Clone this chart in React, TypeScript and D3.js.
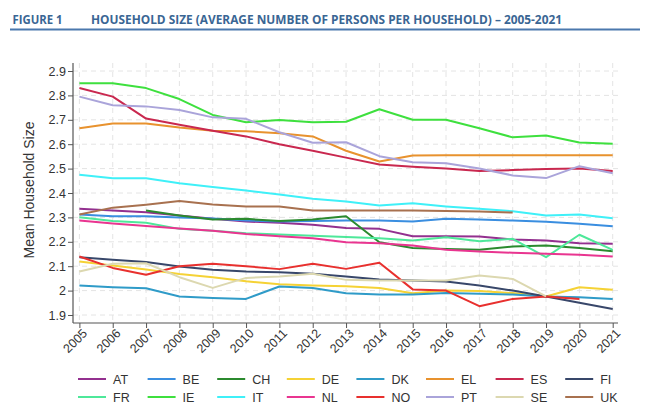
import React, { useEffect, useRef } from 'react';
import * as d3 from 'd3';

const years = d3.range(2005, 2022);

const countries = ['AT', 'BE', 'CH', 'DE', 'DK', 'EL', 'ES', 'FI', 'FR', 'IE', 'IT', 'NL', 'NO', 'PT', 'SE', 'UK'];

const colors = [
  '#93308f', '#3a8ee0', '#2b8a2e', '#f5d235', '#2f9bc8', '#e8922e', '#c9284f', '#38476a',
  '#4ee89a', '#3ee03e', '#3ff0f8', '#e93590', '#e8302e', '#aaa4da', '#dcd8b0', '#a8714f',
];

const AT = [2.335, 2.328, 2.321, 2.308, 2.294, 2.283, 2.278, 2.27, 2.257, 2.253, 2.223, 2.223, 2.222, 2.209, 2.205, 2.194, 2.192];
const BE = [2.312, 2.305, 2.305, 2.3, 2.295, 2.287, 2.283, 2.285, 2.287, 2.287, 2.283, 2.294, 2.291, 2.287, 2.282, 2.274, 2.264];
const CH = [null, null, 2.328, 2.308, 2.291, 2.294, 2.285, 2.291, 2.305, 2.198, 2.175, 2.171, 2.167, 2.181, 2.185, 2.175, 2.161];
const DE = [2.119, 2.103, 2.086, 2.068, 2.055, 2.038, 2.026, 2.021, 2.018, 2.011, 1.989, 2.0, 1.998, 1.99, 1.976, 2.014, 2.003];
const DK = [2.021, 2.014, 2.01, 1.976, 1.97, 1.966, 2.017, 2.011, 1.989, 1.984, 1.984, 1.99, 1.987, 1.984, 1.976, 1.973, 1.966];
const EL = [2.665, 2.685, 2.685, 2.668, 2.655, 2.653, 2.645, 2.632, 2.573, 2.529, 2.554, 2.555, 2.555, 2.555, 2.555, 2.555, 2.555];
const ES = [2.83, 2.795, 2.705, 2.68, 2.655, 2.632, 2.6, 2.573, 2.545, 2.517, 2.508, 2.5, 2.49, 2.494, 2.498, 2.5, 2.49];
const FI = [2.137, 2.126, 2.117, 2.099, 2.085, 2.078, 2.075, 2.069, 2.058, 2.045, 2.041, 2.037, 2.021, 2.0, 1.976, 1.95, 1.925];
const FR = [2.301, 2.285, 2.278, 2.253, 2.245, 2.235, 2.23, 2.225, 2.22, 2.215, 2.205, 2.219, 2.202, 2.212, 2.137, 2.229, 2.167];
const IE = [2.85, 2.85, 2.83, 2.785, 2.72, 2.69, 2.699, 2.69, 2.692, 2.743, 2.7, 2.7, 2.665, 2.628, 2.636, 2.607, 2.602];
const IT = [2.475, 2.46, 2.46, 2.44, 2.425, 2.41, 2.394, 2.376, 2.365, 2.349, 2.358, 2.345, 2.335, 2.325, 2.308, 2.312, 2.297];
const NL = [2.287, 2.275, 2.265, 2.255, 2.245, 2.232, 2.223, 2.215, 2.198, 2.194, 2.185, 2.167, 2.16, 2.155, 2.151, 2.147, 2.14];
const NO = [2.14, 2.093, 2.065, 2.1, 2.11, 2.1, 2.088, 2.11, 2.089, 2.114, 2.005, 2.0, 1.936, 1.966, 1.976, 1.966, null];
const PT = [2.795, 2.76, 2.755, 2.74, 2.71, 2.704, 2.649, 2.606, 2.608, 2.551, 2.526, 2.522, 2.5, 2.472, 2.461, 2.51, 2.481];
const SE = [2.078, 2.11, 2.112, 2.055, 2.011, 2.052, 2.058, 2.069, 2.044, 2.041, 2.041, 2.041, 2.062, 2.048, 1.976, null, null];
const UK = [2.312, 2.34, 2.352, 2.367, 2.353, 2.345, 2.345, 2.328, 2.328, 2.328, 2.328, 2.326, 2.324, 2.32, null, null, null];

const seriesValues = [AT, BE, CH, DE, DK, EL, ES, FI, FR, IE, IT, NL, NO, PT, SE, UK];

const yTicks = [1.9, 2, 2.1, 2.2, 2.3, 2.4, 2.5, 2.6, 2.7, 2.8, 2.9];

const App: React.FC = () => {
  const svgRef = useRef<SVGSVGElement>(null);

  useEffect(() => {
    document.body.style.margin = '0';
    if (!svgRef.current) return;
    const svg = d3.select(svgRef.current);
    svg.selectAll('*').remove();

    const font = 'Liberation Sans, Arial, sans-serif';

    // Header
    svg.append('text')
      .attr('x', 12.5).attr('y', 24)
      .attr('font-family', 'Open Sans, sans-serif').attr('font-weight', 'bold')
      .attr('font-size', 11.5).attr('fill', '#3a6694')
      .attr('textLength', 50).attr('lengthAdjust', 'spacingAndGlyphs')
      .text('FIGURE 1');
    svg.append('text')
      .attr('x', 91).attr('y', 24)
      .attr('font-family', 'Open Sans, sans-serif').attr('font-weight', 'bold')
      .attr('font-size', 11.5).attr('fill', '#3a6694')
      .attr('textLength', 471).attr('lengthAdjust', 'spacingAndGlyphs')
      .text('HOUSEHOLD SIZE (AVERAGE NUMBER OF PERSONS PER HOUSEHOLD) – 2005-2021');
    svg.append('line')
      .attr('x1', 10).attr('x2', 640).attr('y1', 29.5).attr('y2', 29.5)
      .attr('stroke', '#4b78ad').attr('stroke-width', 2);

    const left = 73, right = 618, top = 63, bottom = 323;
    const x = d3.scaleLinear().domain([2005, 2021]).range([79.4, 612.7]);
    const y = d3.scaleLinear().domain([1.9, 2.9]).range([315, 71]);

    const g = svg.append('g');

    // Grid
    g.selectAll('.hgrid').data(yTicks).enter().append('line')
      .attr('x1', left).attr('x2', right)
      .attr('y1', (d) => y(d)).attr('y2', (d) => y(d))
      .attr('stroke', '#e4e4e4').attr('stroke-dasharray', '5,4');
    g.selectAll('.vgrid').data(years).enter().append('line')
      .attr('x1', (d) => x(d)).attr('x2', (d) => x(d))
      .attr('y1', top).attr('y2', bottom)
      .attr('stroke', '#e4e4e4').attr('stroke-dasharray', '5,4');

    // Axes
    const yAxis = g.append('g')
      .attr('transform', `translate(${left},0)`)
      .call(d3.axisLeft(y).tickValues(yTicks).tickSize(5).tickSizeOuter(0).tickFormat(d3.format('~g')));
    yAxis.select('.domain').attr('d', `M0,${top}V${bottom}`);
    const xAxis = g.append('g')
      .attr('transform', `translate(0,${bottom})`)
      .call(d3.axisBottom(x).tickValues(years).tickSize(5).tickSizeOuter(0).tickFormat(d3.format('d')));
    xAxis.select('.domain').attr('d', `M${left},0H${right}`);

    [yAxis, xAxis].forEach((a) => {
      a.select('.domain').attr('stroke', '#555').attr('stroke-width', 1.2);
      a.selectAll('.tick line').attr('stroke', '#555');
      a.selectAll('.tick text')
        .attr('font-family', font).attr('font-size', 12.5).attr('fill', '#333');
    });
    yAxis.selectAll('.tick text').attr('x', -7);
    xAxis.selectAll('.tick text')
      .attr('text-anchor', 'end')
      .attr('transform', 'translate(5,8) rotate(-45)')
      .attr('dy', '0.35em').attr('y', 0).attr('x', 0);

    g.append('text')
      .attr('transform', `translate(34,${(top + bottom) / 2 - 3}) rotate(-90)`)
      .attr('text-anchor', 'middle')
      .attr('font-family', font).attr('font-size', 14).attr('fill', '#333')
      .text('Mean Household Size');

    // Lines
    const line = d3.line<number | null>()
      .defined((d) => d !== null)
      .x((_, i) => x(years[i]))
      .y((d) => y(d as number));

    seriesValues.forEach((vals, i) => {
      g.append('path')
        .attr('d', line(vals))
        .attr('fill', 'none')
        .attr('stroke', colors[i])
        .attr('stroke-width', 2)
        .attr('stroke-linejoin', 'round');
    });

    // Legend
    const legend = svg.append('g');
    countries.forEach((c, i) => {
      const col = i % 8;
      const row = Math.floor(i / 8);
      const lx = 78 + col * 69.6;
      const ly = 379 + row * 18;
      legend.append('line')
        .attr('x1', lx).attr('x2', lx + 28).attr('y1', ly).attr('y2', ly)
        .attr('stroke', colors[i]).attr('stroke-width', 2);
      legend.append('text')
        .attr('x', lx + 35).attr('y', ly).attr('dy', '0.36em')
        .attr('font-family', font).attr('font-size', 12.5).attr('fill', '#333')
        .text(c);
    });
  }, []);

  return <svg ref={svgRef} width={650} height={410} style={{ display: 'block', background: '#fff' }} />;
};

export default App;
